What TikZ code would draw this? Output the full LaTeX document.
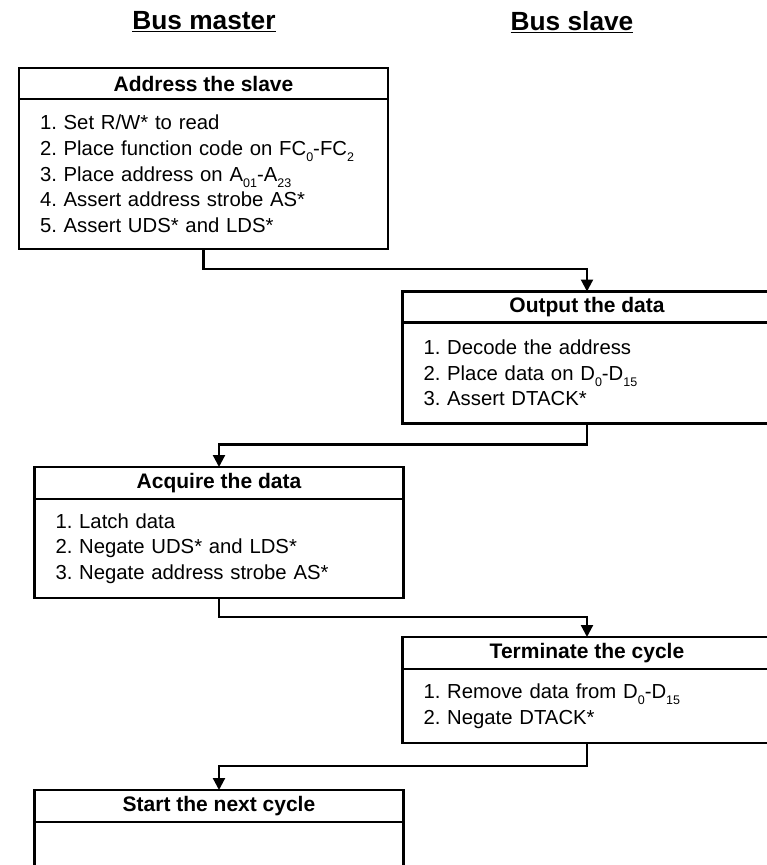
\documentclass[tikz,border=0pt]{standalone}
\usepackage{fontspec}
\setmainfont{Liberation Sans}
\usetikzlibrary{arrows.meta,positioning}
\frenchspacing
\newcommand{\lowidx}[1]{\raisebox{-0.55ex}{\fontsize{12.5}{12.5}\selectfont #1}}

\begin{document}
\begin{tikzpicture}[
  x=1pt,y=-1pt,
  >={Triangle[length=12pt,width=12pt]},
  every node/.style={font=\fontsize{20.3}{25.7}\selectfont},
  title/.style={font=\fontsize{26.3}{30}\selectfont\bfseries},
  head/.style={draw,line width=2.2pt,minimum width=369pt,minimum height=31pt,
    inner sep=0pt,outer sep=0pt,font=\fontsize{21}{24}\selectfont\bfseries},
  body/.style={draw,line width=2.2pt,text width=327pt,inner xsep=21pt,
    inner ysep=0pt,outer sep=0pt,align=left},
  flow/.style={line width=2.2pt,->}
]
  \useasboundingbox (0,0) rectangle (766,865);

  % column titles
  \node[title] (master) at (204,22) {\underline{Bus master}};
  \node[title] (slave) at (572,22) {\underline{Bus slave}};

  % steps
  \node[head] (addrhead) at (203.5,83.5) {Address the slave};
  \node[body,minimum height=150pt,below=0pt of addrhead] (addrbody)
    {1. Set R/W* to read\\
     2. Place function code on FC\lowidx{0}-FC\lowidx{2}\\
     3. Place address on A\lowidx{01}-A\lowidx{23}\\
     4. Assert address strobe AS*\\
     5. Assert UDS* and LDS*};

  \node[head] (outhead) at (587,307) {Output the data};
  \node[body,minimum height=101pt,below=0pt of outhead] (outbody)
    {1. Decode the address\\
     2. Place data on D\lowidx{0}-D\lowidx{15}\\
     3. Assert DTACK*};

  \node[head,minimum height=32pt] (acqhead) at (219,483) {Acquire the data};
  \node[body,minimum height=99pt,below=0pt of acqhead] (acqbody)
    {1. Latch data\\
     2. Negate UDS* and LDS*\\
     3. Negate address strobe AS*};

  \node[head,minimum height=32pt] (termhead) at (587,653) {Terminate the cycle};
  \node[body,minimum height=74pt,below=0pt of termhead] (termbody)
    {1. Remove data from D\lowidx{0}-D\lowidx{15}\\
     2. Negate DTACK*};

  \node[head,minimum height=32pt] (nexthead) at (219,806) {Start the next cycle};
  \node[body,minimum height=80pt,below=0pt of nexthead] (nextbody) {};

  % hand-over arrows
  \draw[flow] (addrbody.south) -- ++(0,20) -| (outhead.north);
  \draw[flow] (outbody.south) -- ++(0,21) -| (acqhead.north);
  \draw[flow] (acqbody.south) -- ++(0,19) -| (termhead.north);
  \draw[flow] (termbody.south) -- ++(0,23) -| (nexthead.north);
\end{tikzpicture}
\end{document}
